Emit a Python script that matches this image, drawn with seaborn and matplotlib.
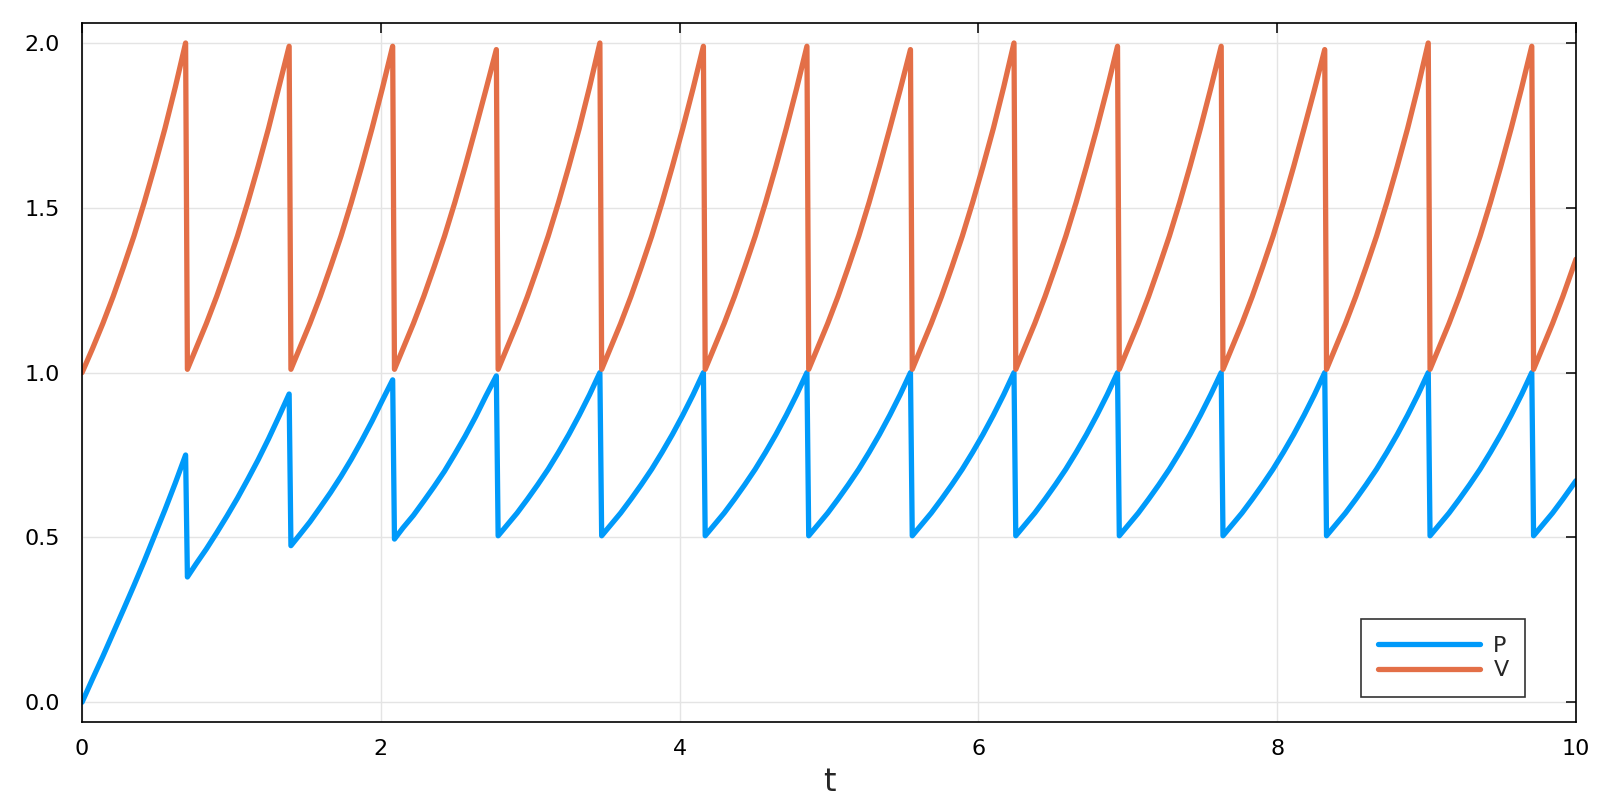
import matplotlib
matplotlib.use("Agg")
import matplotlib.pyplot as plt
import seaborn as sns
import pandas as pd

# samples, one row per reset cycle (~0.693 long)
t = [0.000, 0.069, 0.139, 0.208, 0.277, 0.347, 0.416, 0.485, 0.555, 0.624, 0.693,
     0.705, 0.762, 0.832, 0.901, 0.970, 1.040, 1.109, 1.178, 1.248, 1.317, 1.386,
     1.398, 1.455, 1.525, 1.594, 1.663, 1.733, 1.802, 1.871, 1.941, 2.010, 2.079,
     2.091, 2.148, 2.218, 2.287, 2.356, 2.426, 2.495, 2.564, 2.634, 2.703, 2.773,
     2.785, 2.842, 2.912, 2.981, 3.050, 3.120, 3.189, 3.258, 3.328, 3.397, 3.466,
     3.478, 3.535, 3.605, 3.674, 3.743, 3.813, 3.882, 3.951, 4.021, 4.090, 4.159,
     4.171, 4.228, 4.298, 4.367, 4.436, 4.506, 4.575, 4.644, 4.714, 4.783, 4.852,
     4.864, 4.921, 4.991, 5.060, 5.129, 5.199, 5.268, 5.337, 5.407, 5.476, 5.545,
     5.557, 5.614, 5.684, 5.753, 5.822, 5.892, 5.961, 6.030, 6.100, 6.169, 6.238,
     6.250, 6.307, 6.377, 6.446, 6.515, 6.585, 6.654, 6.723, 6.793, 6.862, 6.931,
     6.943, 7.000, 7.070, 7.139, 7.208, 7.278, 7.347, 7.416, 7.486, 7.555, 7.625,
     7.637, 7.694, 7.764, 7.833, 7.902, 7.972, 8.041, 8.110, 8.180, 8.249, 8.318,
     8.330, 8.387, 8.457, 8.526, 8.595, 8.665, 8.734, 8.803, 8.873, 8.942, 9.011,
     9.023, 9.080, 9.150, 9.219, 9.288, 9.358, 9.427, 9.496, 9.566, 9.635, 9.704,
     9.716, 9.773, 9.843, 9.912, 9.981, 10.000]

P = [0.000, 0.070, 0.139, 0.210, 0.281, 0.354, 0.428, 0.505, 0.584, 0.665, 0.750,
     0.380, 0.419, 0.465, 0.514, 0.565, 0.619, 0.676, 0.735, 0.799, 0.866, 0.935,
     0.475, 0.507, 0.547, 0.591, 0.636, 0.685, 0.737, 0.793, 0.853, 0.916, 0.978,
     0.495, 0.529, 0.567, 0.610, 0.654, 0.701, 0.753, 0.807, 0.866, 0.929, 0.990,
     0.505, 0.536, 0.574, 0.616, 0.660, 0.707, 0.758, 0.812, 0.871, 0.933, 1.000,
     0.505, 0.536, 0.574, 0.616, 0.660, 0.707, 0.758, 0.812, 0.871, 0.933, 1.000,
     0.505, 0.536, 0.574, 0.616, 0.660, 0.707, 0.758, 0.812, 0.871, 0.933, 1.000,
     0.505, 0.536, 0.574, 0.616, 0.660, 0.707, 0.758, 0.812, 0.871, 0.933, 1.000,
     0.505, 0.536, 0.574, 0.616, 0.660, 0.707, 0.758, 0.812, 0.871, 0.933, 1.000,
     0.505, 0.536, 0.574, 0.616, 0.660, 0.707, 0.758, 0.812, 0.871, 0.933, 1.000,
     0.505, 0.536, 0.574, 0.616, 0.660, 0.707, 0.758, 0.812, 0.871, 0.933, 1.000,
     0.505, 0.536, 0.574, 0.616, 0.660, 0.707, 0.758, 0.812, 0.871, 0.933, 1.000,
     0.505, 0.536, 0.574, 0.616, 0.660, 0.707, 0.758, 0.812, 0.871, 0.933, 1.000,
     0.505, 0.536, 0.574, 0.616, 0.660, 0.707, 0.758, 0.812, 0.871, 0.933, 1.000,
     0.505, 0.536, 0.574, 0.616, 0.660, 0.672]

V = [1.000, 1.072, 1.149, 1.231, 1.320, 1.414, 1.516, 1.625, 1.741, 1.866, 2.000,
     1.010, 1.072, 1.149, 1.231, 1.320, 1.414, 1.516, 1.625, 1.741, 1.866, 1.990,
     1.010, 1.072, 1.149, 1.231, 1.320, 1.414, 1.516, 1.625, 1.741, 1.862, 1.990,
     1.010, 1.072, 1.149, 1.231, 1.320, 1.414, 1.516, 1.625, 1.741, 1.858, 1.980,
     1.010, 1.072, 1.149, 1.231, 1.320, 1.414, 1.516, 1.625, 1.741, 1.866, 2.000,
     1.010, 1.072, 1.149, 1.231, 1.320, 1.414, 1.516, 1.625, 1.741, 1.862, 1.990,
     1.010, 1.072, 1.149, 1.231, 1.320, 1.414, 1.516, 1.625, 1.741, 1.862, 1.990,
     1.010, 1.072, 1.149, 1.231, 1.320, 1.414, 1.516, 1.625, 1.741, 1.858, 1.980,
     1.010, 1.072, 1.149, 1.231, 1.320, 1.414, 1.516, 1.625, 1.741, 1.866, 2.000,
     1.010, 1.072, 1.149, 1.231, 1.320, 1.414, 1.516, 1.625, 1.741, 1.862, 1.990,
     1.010, 1.072, 1.149, 1.231, 1.320, 1.414, 1.516, 1.625, 1.741, 1.862, 1.990,
     1.010, 1.072, 1.149, 1.231, 1.320, 1.414, 1.516, 1.625, 1.741, 1.858, 1.980,
     1.010, 1.072, 1.149, 1.231, 1.320, 1.414, 1.516, 1.625, 1.741, 1.866, 2.000,
     1.010, 1.072, 1.149, 1.231, 1.320, 1.414, 1.516, 1.625, 1.741, 1.862, 1.990,
     1.010, 1.072, 1.149, 1.231, 1.320, 1.344]

xticks = [0, 2, 4, 6, 8, 10]
yticks = [0.0, 0.5, 1.0, 1.5, 2.0]

df = pd.concat([pd.DataFrame({'t': t, 'value': P, 'series': 'P'}),
                pd.DataFrame({'t': t, 'value': V, 'series': 'V'})])

sns.set_style("white")
plt.rcParams['font.family'] = ['DejaVu Sans']

fig, ax = plt.subplots(figsize=(16, 8), dpi=100)
fig.subplots_adjust(left=0.0513, right=0.985, top=0.971, bottom=0.0975)

sns.lineplot(data=df, x='t', y='value', hue='series', estimator=None, sort=False,
             palette={'P': '#009AFA', 'V': '#E36F47'}, linewidth=3.8, ax=ax)
for ln in ax.get_lines():
    ln.set_solid_joinstyle('round')
    ln.set_solid_capstyle('round')

ax.set_xlim(0, 10)
ax.set_ylim(-0.06, 2.06)
ax.set_xticks(xticks)
ax.set_xticklabels([str(x) for x in xticks])
ax.set_yticks(yticks)
ax.set_yticklabels([f"{y:.1f}" for y in yticks])
ax.grid(True, color='#e4e4e4', linewidth=1.0)
ax.set_axisbelow(True)
ax.tick_params(direction='in', length=7, width=1.1, top=True, right=True,
               labelsize=16, colors='black')
ax.tick_params(axis='x', pad=12)
ax.tick_params(axis='y', pad=16)
for sp in ax.spines.values():
    sp.set_visible(True)
    sp.set_color('black')
    sp.set_linewidth(1.2)
ax.set_xlabel('t', fontsize=23, labelpad=6)
ax.set_ylabel('')

leg = ax.legend(loc='lower right', bbox_to_anchor=(0.9705, 0.026), fontsize=16,
                handlelength=4.6, frameon=True, fancybox=False, borderpad=0.75,
                labelspacing=0.2, handletextpad=0.6, borderaxespad=0.3)
leg.set_title(None)
leg.get_frame().set_edgecolor('black')
leg.get_frame().set_linewidth(1.2)
for h in leg.get_lines():
    h.set_linewidth(3.8)
    h.set_solid_capstyle('round')

fig.savefig('out.png', dpi=100)
